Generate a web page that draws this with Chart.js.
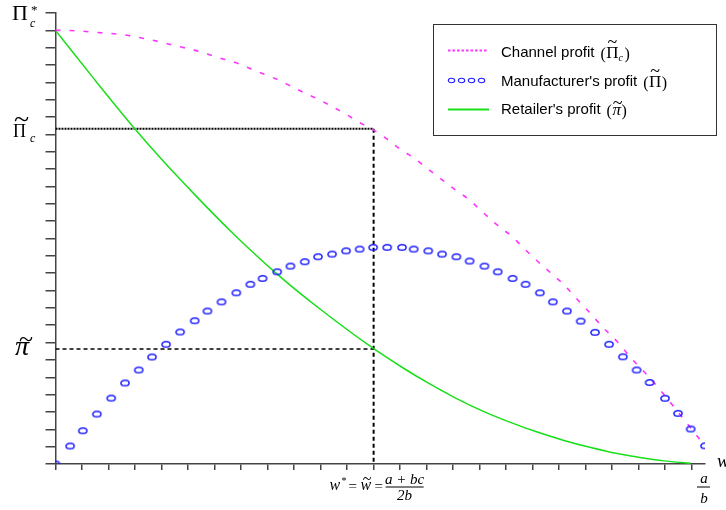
<!DOCTYPE html>
<html>
<head>
<meta charset="utf-8">
<script src="https://cdn.jsdelivr.net/npm/chart.js@4.4.1/dist/chart.umd.min.js"></script>
<style>
html,body{margin:0;padding:0;background:#fff;}
#wrap{width:726px;height:510px;position:relative;}
</style>
</head>
<body>
<div id="wrap"><canvas id="c" width="726" height="510"></canvas></div>
<script>
// ---- data (x in tick units, y in tick units) ----
const xMax = 24.5;
const yMax = 26;
const wStar = 12;          // w* = w~
const piCTilde = 19.33;    // channel profit level at w~
const piTilde = 6.63;      // retailer profit level at w~

const mfrX = [0,0.55,1.03,1.56,2.10,2.62,3.14,3.64,4.17,4.70,5.25,5.73,6.26,6.82,7.35,7.81,8.36,8.86,9.40,9.90,10.43,10.96,11.47,11.98,12.51,13.07,13.51,14.06,14.58,15.12,15.62,16.18,16.68,17.24,17.73,18.27,18.76,19.29,19.81,20.35,20.88,21.40,21.92,22.41,22.99,23.48,23.96,24.50];
const mfrY = [0,1.04,1.92,2.88,3.80,4.67,5.42,6.17,6.90,7.61,8.26,8.82,9.35,9.87,10.36,10.70,11.08,11.41,11.66,11.95,12.10,12.29,12.39,12.49,12.49,12.49,12.39,12.29,12.10,11.95,11.70,11.41,11.08,10.70,10.36,9.87,9.35,8.82,8.24,7.59,6.90,6.18,5.42,4.70,3.79,2.92,2.02,1.05];

const chanX = [0,0.55,1.56,2.62,3.63,4.17,4.70,5.20,5.73,6.25,6.82,7.32,7.82,8.33,8.86,9.38,9.89,10.40,10.93,11.46,12.00,12.51,13.01,13.51,14.02,14.56,15.09,15.59,16.10,16.66,17.23,17.61,18.13,18.67,19.12,19.62,20.12,20.63,21.19,21.70,22.26,22.76,23.27,23.77,24.27,24.49];
const chanY = [25.0,24.99,24.88,24.73,24.44,24.25,24.05,23.88,23.63,23.38,23.13,22.81,22.50,22.19,21.80,21.40,21.04,20.63,20.19,19.69,19.25,18.73,18.14,17.65,17.04,16.41,15.79,15.26,14.54,13.78,13.10,12.52,11.76,11.03,10.42,9.59,8.78,7.91,7.05,6.13,5.23,4.36,3.40,2.44,1.48,1.04];

const retX = [0,1.49,3.00,3.95,5.27,6.59,8.36,9.99,11.99,13.13,14.02,15.02,16.16,17.16,18.17,19.18,20.19,21.19,21.95,22.95,23.96];
const retY = [25.0,22.13,19.31,17.65,15.50,13.45,10.95,8.92,6.66,5.52,4.70,3.86,3.02,2.40,1.84,1.36,0.95,0.60,0.40,0.18,0.05];

const legendLabels = ['Channel profit', "Manufacturer's profit", "Retailer's profit"];

// ---- styles ----
const MAGENTA = '#ff33ff';
const BLUE = '#2020ff';
const GREEN = '#18e018';
const AXIS = '#444';
const SERIF = '"Liberation Serif","Times New Roman",serif';
const SANS = '"Liberation Sans",Arial,sans-serif';

function ellipseMarker(w, h, rx, ry, lw) {
  const c = document.createElement('canvas');
  c.width = w; c.height = h;
  const g = c.getContext('2d');
  g.strokeStyle = BLUE; g.lineWidth = lw;
  g.beginPath(); g.ellipse(w/2, h/2, rx, ry, 0, 0, Math.PI*2); g.stroke();
  return c;
}
const marker = ellipseMarker(12, 9, 4.1, 2.8, 1.5);
const markerSmall = ellipseMarker(9, 7, 3.2, 2.2, 1.1);

const pts = (xs, ys) => xs.map((x, i) => ({x, y: ys[i]}));

// a tilde accent drawn as a text glyph centred at (cx, cy)
function tilde(ctx, cx, cy, size) {
  ctx.save();
  ctx.font = `${size}px ${SERIF}`;
  ctx.textAlign = 'center';
  ctx.textBaseline = 'alphabetic';
  ctx.fillText('~', cx, cy + size * 0.29);
  ctx.restore();
}

const overlay = {
  id: 'overlay',
  afterDraw(chart) {
    const ctx = chart.ctx;
    const xs = chart.scales.x, ys = chart.scales.y;
    ctx.save();
    ctx.fillStyle = '#000';
    ctx.textBaseline = 'alphabetic';
    ctx.textAlign = 'left';

    // ---- y-axis labels ----
    const yT = ys.getPixelForValue(yMax);
    ctx.font = `22px ${SERIF}`;
    ctx.fillText('\u03A0', 12, yT + 7);
    ctx.font = `italic 12px ${SERIF}`;
    ctx.fillText('c', 30, yT + 14);
    ctx.font = `13px ${SERIF}`;
    ctx.fillText('*', 31, yT + 1);

    const yC = ys.getPixelForValue(piCTilde);
    ctx.font = `18px ${SERIF}`;
    ctx.fillText('\u03A0', 13, yC + 8);
    tilde(ctx, 21.5, yC - 8.5, 28);
    ctx.font = `italic 12px ${SERIF}`;
    ctx.fillText('c', 30, yC + 13);

    const yP = ys.getPixelForValue(piTilde);
    ctx.font = `italic 28px ${SERIF}`;
    ctx.fillText('\u03C0', 15, yP + 6);
    tilde(ctx, 26, yP - 10, 26);

    // ---- x-axis labels ----
    const xW = xs.getPixelForValue(wStar);
    ctx.font = `italic 16px ${SERIF}`;
    ctx.fillText('w', xW - 44, 490);
    ctx.font = `10px ${SERIF}`;
    ctx.fillText('*', xW - 32, 484);
    ctx.font = `15px ${SERIF}`;
    ctx.fillText('=', xW - 25, 491);
    ctx.font = `italic 16px ${SERIF}`;
    ctx.fillText('w', xW - 13, 490);
    tilde(ctx, xW - 6.5, 479.5, 16);
    ctx.font = `15px ${SERIF}`;
    ctx.fillText('=', xW + 1, 491);
    ctx.font = `italic 15px ${SERIF}`;
    ctx.textAlign = 'center';
    ctx.fillText('a + bc', xW + 31, 484);
    ctx.fillText('2b', xW + 31, 500);
    ctx.fillRect(xW + 12, 486.5, 38, 1);

    const xE = xs.getPixelForValue(xMax);
    ctx.font = `italic 15px ${SERIF}`;
    ctx.fillText('a', xE - 1, 483);
    ctx.fillText('b', xE - 1, 503);
    ctx.fillRect(xE - 8, 486.5, 13, 1);
    ctx.textAlign = 'left';
    ctx.font = `italic 19px ${SERIF}`;
    ctx.fillText('w', xE + 12, 467);

    // ---- legend ----
    ctx.strokeStyle = '#333';
    ctx.lineWidth = 1;
    ctx.strokeRect(433.5, 24.5, 283, 111);

    const tx = 501;
    const rows = [56.5, 85.5, 114];
    ctx.fillStyle = MAGENTA;
    for (let i = 0; i < 9; i++) ctx.fillRect(448 + i * 4.5, rows[0] - 7, 2.5, 2);
    for (let i = 0; i < 4; i++) ctx.drawImage(markerSmall, 447 + i * 10, rows[1] - 8.5);
    ctx.fillStyle = GREEN;
    ctx.fillRect(448, rows[2] - 5.5, 41, 2);

    ctx.fillStyle = '#000';
    const syms = [['\u03A0', 'c'], ['\u03A0', ''], ['\u03C0', '']];
    legendLabels.forEach((lab, i) => {
      const b = rows[i];
      ctx.font = `15px ${SANS}`;
      ctx.fillText(lab, tx, b);
      let x = tx + ctx.measureText(lab).width + 6;
      ctx.font = `16px ${SERIF}`;
      ctx.fillText('(', x, b + 2); x += ctx.measureText('(').width + 0.5;
      ctx.font = i === 2 ? `italic 17px ${SERIF}` : `17px ${SERIF}`;
      const gw = ctx.measureText(syms[i][0]).width;
      ctx.fillText(syms[i][0], x, b + 1);
      tilde(ctx, x + gw / 2 + (i === 2 ? 1 : 0), b + 1 - (i === 2 ? 11.5 : 14.5), 18);
      x += gw;
      if (syms[i][1]) {
        ctx.font = `italic 10px ${SERIF}`;
        ctx.fillText(syms[i][1], x, b + 4); x += ctx.measureText(syms[i][1]).width + 1;
      }
      ctx.font = `16px ${SERIF}`;
      ctx.fillText(')', x + 0.5, b + 2);
    });
    ctx.restore();
  }
};

new Chart(document.getElementById('c'), {
  type: 'scatter',
  data: {
    datasets: [
      { data: pts(mfrX, mfrY), showLine: false, pointStyle: marker, pointRadius: 5 },
      { data: pts(chanX, chanY), showLine: true, borderColor: MAGENTA, borderWidth: 1.6,
        borderDash: [5, 9], pointRadius: 0, cubicInterpolationMode: 'monotone' },
      { data: pts(retX, retY), showLine: true, borderColor: GREEN, borderWidth: 1.5,
        pointRadius: 0, cubicInterpolationMode: 'monotone' },
      { data: [{x: 0, y: piCTilde}, {x: wStar, y: piCTilde}], showLine: true,
        borderColor: '#000', borderWidth: 2, borderDash: [2, 1], pointRadius: 0 },
      { data: [{x: wStar, y: piCTilde}, {x: wStar, y: 0}], showLine: true,
        borderColor: '#000', borderWidth: 2, borderDash: [4, 3], pointRadius: 0 },
      { data: [{x: 0, y: piTilde}, {x: wStar, y: piTilde}], showLine: true,
        borderColor: '#000', borderWidth: 1.6, borderDash: [4, 3], pointRadius: 0 }
    ]
  },
  options: {
    responsive: false,
    animation: false,
    events: [],
    layout: { padding: { top: 13, right: 21, left: 0, bottom: 0 }, autoPadding: false },
    plugins: { legend: { display: false }, tooltip: { enabled: false } },
    scales: {
      x: {
        type: 'linear', min: 0, max: xMax,
        ticks: { display: false, stepSize: 1, includeBounds: false, autoSkip: false, maxTicksLimit: 100 },
        grid: { drawOnChartArea: false, drawTicks: true, tickLength: 6, color: AXIS, lineWidth: 1.5 },
        border: { display: true, color: AXIS, width: 1.5 },
        afterFit: s => { s.height = 46; }
      },
      y: {
        type: 'linear', min: 0, max: yMax,
        ticks: { display: false, stepSize: 1, includeBounds: false, autoSkip: false, maxTicksLimit: 100 },
        grid: { drawOnChartArea: false, drawTicks: true, tickLength: 10, color: AXIS, lineWidth: 1.5 },
        border: { display: true, color: AXIS, width: 1.5 },
        afterFit: s => { s.width = 55.5; }
      }
    }
  },
  plugins: [overlay]
});
</script>
</body>
</html>
